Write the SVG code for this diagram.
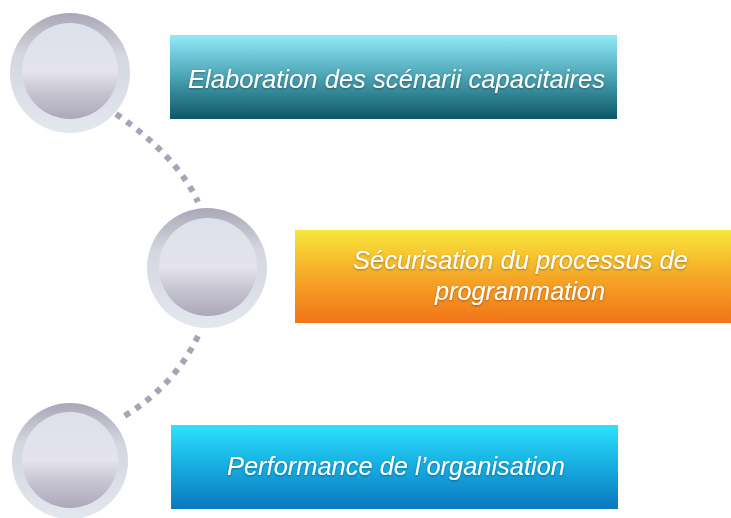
<svg xmlns="http://www.w3.org/2000/svg" width="731" height="518" viewBox="0 0 731 518">
<defs>
<linearGradient id="ring" x1="0" y1="0" x2="0" y2="1">
<stop offset="0" stop-color="#aaa7b6"/>
<stop offset="0.35" stop-color="#d4d6e0"/>
<stop offset="1" stop-color="#e3e7ee"/>
</linearGradient>
<linearGradient id="disc" x1="0" y1="0" x2="0" y2="1">
<stop offset="0" stop-color="#dce1e9"/>
<stop offset="0.5" stop-color="#e5e3ed"/>
<stop offset="0.72" stop-color="#c8c5d2"/>
<stop offset="1" stop-color="#aca8b9"/>
</linearGradient>
<linearGradient id="g1" x1="0" y1="0" x2="0" y2="1">
<stop offset="0" stop-color="#93eaf7"/>
<stop offset="0.5" stop-color="#4aa3b3"/>
<stop offset="1" stop-color="#0d5767"/>
</linearGradient>
<linearGradient id="g2" x1="0" y1="0" x2="0" y2="1">
<stop offset="0" stop-color="#f7e73b"/>
<stop offset="0.5" stop-color="#f5a827"/>
<stop offset="1" stop-color="#f37318"/>
</linearGradient>
<linearGradient id="g3" x1="0" y1="0" x2="0" y2="1">
<stop offset="0" stop-color="#2ce2fc"/>
<stop offset="0.5" stop-color="#16abe0"/>
<stop offset="1" stop-color="#0a78bd"/>
</linearGradient>
<filter id="sh" x="-5%" y="-10%" width="110%" height="125%">
<feGaussianBlur in="SourceAlpha" stdDeviation="1.2"/>
<feOffset dx="0" dy="1" result="b"/>
<feComponentTransfer><feFuncA type="linear" slope="0.35"/></feComponentTransfer>
<feMerge><feMergeNode/><feMergeNode in="SourceGraphic"/></feMerge>
</filter>
</defs>
<style>
.ring{fill:url(#ring)}
.disc{fill:url(#disc)}
.lbl{font-family:"Liberation Sans","DejaVu Sans",sans-serif;font-style:italic;font-size:25px;fill:#ffffff;text-anchor:start}
.dots{fill:none;stroke:#a6a4b6;stroke-width:6;stroke-dasharray:6 7}
</style>
<rect width="731" height="518" fill="#ffffff"/>
<g id="connectors">
<path class="dots" d="M116,114 Q177,156 198,202"/>
<path class="dots" d="M198,336 Q174,387 121,418"/>
</g>
<g id="circle1">
<circle class="ring" cx="70" cy="73" r="60"/>
<circle class="disc" cx="70" cy="71" r="48"/>
</g>
<g id="circle2">
<circle class="ring" cx="207" cy="268" r="60"/>
<circle class="disc" cx="208" cy="267" r="49"/>
</g>
<g id="circle3">
<circle class="ring" cx="70" cy="461" r="58"/>
<circle class="disc" cx="70" cy="460" r="48"/>
</g>
<g id="box1">
<rect x="170" y="35" width="447" height="84" fill="url(#g1)"/>
<text class="lbl" x="188" y="88" textLength="417" lengthAdjust="spacingAndGlyphs" filter="url(#sh)">Elaboration des scénarii capacitaires</text>
</g>
<g id="box2">
<rect x="295" y="230" width="436" height="93" fill="url(#g2)"/>
<text class="lbl" x="353" y="269" textLength="335" lengthAdjust="spacingAndGlyphs" filter="url(#sh)">Sécurisation du processus de</text>
<text class="lbl" x="435" y="300" textLength="170" lengthAdjust="spacingAndGlyphs" filter="url(#sh)">programmation</text>
</g>
<g id="box3">
<rect x="171" y="425" width="447" height="84" fill="url(#g3)"/>
<text class="lbl" x="227" y="475" textLength="338" lengthAdjust="spacingAndGlyphs" filter="url(#sh)">Performance de l’organisation</text>
</g>
</svg>
